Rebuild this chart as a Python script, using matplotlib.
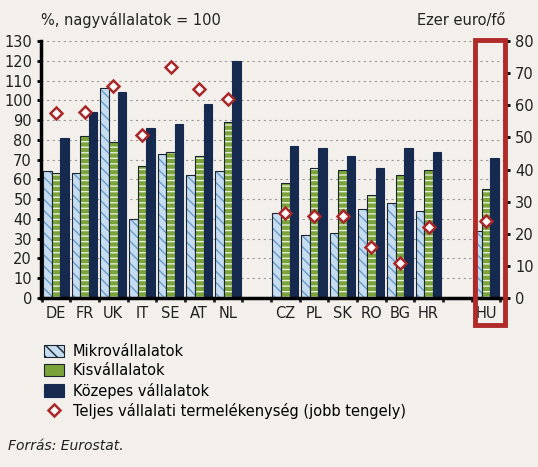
import matplotlib
matplotlib.use("Agg")
import matplotlib.pyplot as plt
from matplotlib.patches import Rectangle
import numpy as np

plt.rcParams['hatch.linewidth'] = 1.0
cats = ["DE","FR","UK","IT","SE","AT","NL","CZ","PL","SK","RO","BG","HR","HU"]
pos = [0,1,2,3,4,5,6,8,9,10,11,12,13,15]
micro = [64,63,106,40,73,62,64,43,32,33,45,48,44,34]
small = [63,82,79,67,74,72,89,58,66,65,52,62,65,55]
medium = [81,94,104,86,88,98,120,77,76,72,66,76,74,71]
total = [57.6,58,66,50.7,72,65,62,26.5,25.5,25.5,16,11,22,24]

bg = "#f3f0ec"
W, H = 538, 467
fig = plt.figure(figsize=(W/100, H/100), dpi=100, facecolor=bg)
ax = fig.add_axes([41/W, 1-298/H, (506-41)/W, (298-41)/H], facecolor=bg)
x = np.array(pos, float)
bw = 0.3
ax.bar(x-bw, micro, bw, color="#c6dcf0", edgecolor="#6a9cc8", lw=0, hatch="\\\\\\", zorder=2)
ax.bar(x-bw, micro, bw, color="none", edgecolor="#1a2530", lw=0.8, zorder=2)
ax.bar(x, small, bw, color="#7aa33a", edgecolor="#e8f0d8", lw=0, hatch="---", zorder=2)
ax.bar(x, small, bw, color="none", edgecolor="#1a2530", lw=0.8, zorder=2)
ax.bar(x+bw, medium, bw, color="#16294f", edgecolor="#16294f", lw=0.8, label="Közepes vállalatok", zorder=2)
hm = Rectangle((0,0),1,1, facecolor="#c6dcf0", edgecolor="#6a9cc8", hatch="\\\\\\", lw=0)
hs = Rectangle((0,0),1,1, facecolor="#7aa33a", edgecolor="#1a2530", lw=0.8)
hm2 = Rectangle((0,0),1,1, facecolor="#c6dcf0", edgecolor="#1a2530", hatch="\\\\\\", lw=0.8)
ax.set_xlim(-0.52, 15.7)
ax.set_ylim(0, 130)
ax.set_yticks(range(0, 131, 10))
ax.yaxis.grid(True, ls=(0,(2,3)), color="#999999", lw=0.8)
ax.set_axisbelow(True)
ax.set_xticks(pos)
ax.set_xticklabels(cats, fontsize=10.5, color="#222222")
ax.set_xticks([p+0.5 for p in pos]+[-0.5,7.5,14.5], minor=True)
ax.tick_params(axis='x', which='major', length=0, pad=6)
ax.tick_params(axis='x', which='minor', length=3, width=2, color="#222")
ax.tick_params(axis='y', labelsize=10.5, length=3, width=2, labelcolor="#222")
for s in ["top","right"]:
    ax.spines[s].set_visible(False)
ax.spines["left"].set_linewidth(2.5)
ax.spines["bottom"].set_linewidth(2.5)

ax2 = ax.twinx()
ax2.set_ylim(0, 80)
ax2.set_yticks(range(0, 81, 10))
ax2.plot(x, total, ls="none", marker="D", ms=6, mfc="white", mec="#a8282a", mew=1.8, label="Teljes vállalati termelékenység (jobb tengely)", zorder=5)
for s in ["top","left","bottom","right"]:
    ax2.spines[s].set_visible(False)
ax2.tick_params(axis='y', labelsize=10.5, length=3, width=2, labelcolor="#222")

fig.text(41/W, 1-20/H, "%, nagyvállalatok = 100", fontsize=10.5, color="#222", va="center")
fig.text(505/W, 1-20/H, "Ezer euro/fő", fontsize=10.5, color="#222", va="center", ha="right")
fig.patches.append(Rectangle((475/W, 1-325/H), 30/W, 285/H, transform=fig.transFigure, fill=False, ec="#b02a2a", lw=3.5))

h1, l1 = ax.get_legend_handles_labels()
h2, l2 = ax2.get_legend_handles_labels()
fig.legend([hm2, hs]+h1+h2, ["Mikrovállalatok", "Kisvállalatok"]+l1+l2, loc="upper left", bbox_to_anchor=(38/W, 1-338/H), frameon=False, fontsize=10.5,
           handlelength=1.4, handleheight=0.9, labelspacing=0.3, borderaxespad=0, handletextpad=0.6)
fig.text(8/W, 1-446/H, "Forrás: Eurostat.", fontsize=10, style="italic", color="#222", va="center")
fig.savefig("out.png", dpi=100, facecolor=bg)
